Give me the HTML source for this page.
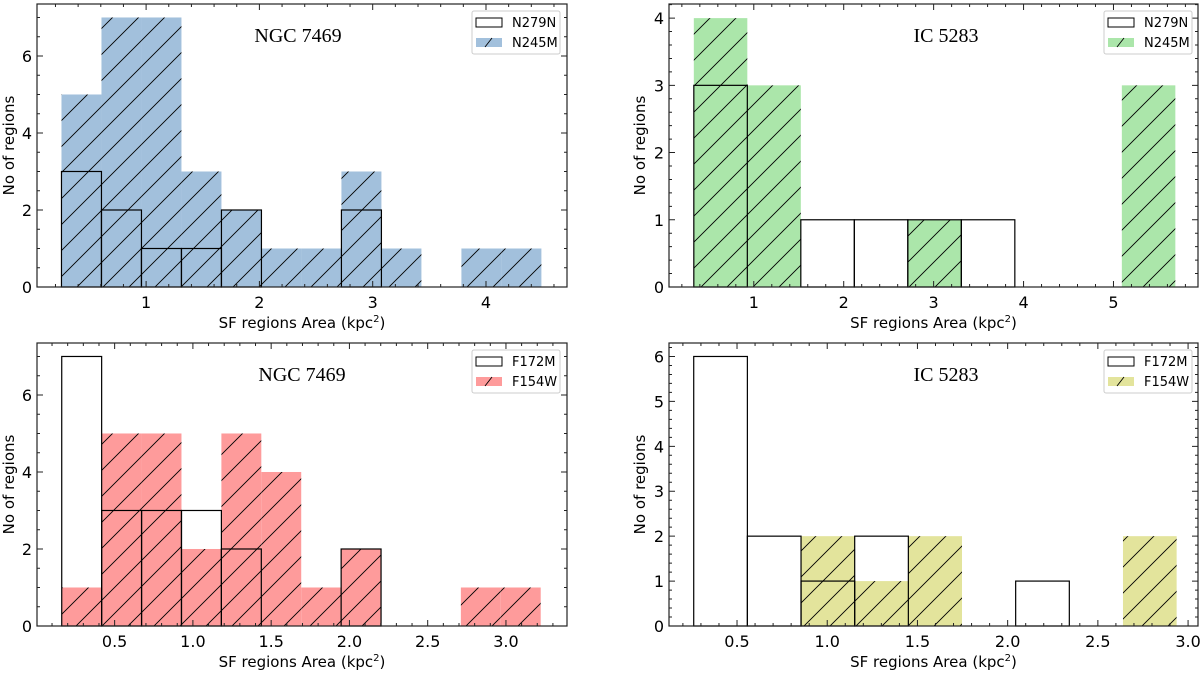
<!DOCTYPE html>
<html><head><meta charset="utf-8"><style>
html,body{margin:0;padding:0;background:#fff;}
svg{display:block;font-family:"DejaVu Sans","Liberation Sans",sans-serif;}
</style></head><body>
<svg id="fig" width="1200" height="675" viewBox="0 0 1200 675" xmlns="http://www.w3.org/2000/svg">
<defs id="defs"></defs>
</svg>
<script>
// Panel A: NGC 7469 N279N / N245M
const aStart = 0.253, aWidth = 0.353;
const aOutline = [3,2,1,1,2,0,0,2,0,0,0,0];
const aFilled = [5,7,7,3,2,1,1,3,1,0,1,1];
const aXTicks = [1,2,3,4];
const aYTicks = [0,2,4,6];
// Panel B: IC 5283 N279N / N245M
const bStart = 0.333, bWidth = 0.595;
const bOutline = [3,0,1,1,1,1,0,0,0];
const bFilled = [4,3,0,0,1,0,0,0,3];
const bXTicks = [1,2,3,4,5];
const bYTicks = [0,1,2,3,4];
// Panel C: NGC 7469 F172M / F154W
const cStart = 0.162, cWidth = 0.255;
const cOutline = [7,3,3,3,2,0,0,2,0,0,0,0];
const cFilled = [1,5,5,2,5,4,1,2,0,0,1,1];
const cXTicks = [0.5,1.0,1.5,2.0,2.5,3.0];
const cYTicks = [0,2,4,6];
// Panel D: IC 5283 F172M / F154W
const dStart = 0.26, dWidth = 0.2974;
const dOutline = [6,2,1,2,0,0,1,0,0];
const dFilled = [0,0,2,1,2,0,0,0,2];
const dXTicks = [0.5,1.0,1.5,2.0,2.5,3.0];
const dYTicks = [0,1,2,3,4,5,6];

const NS='http://www.w3.org/2000/svg';
const svg=document.getElementById('fig');
const defs=document.getElementById('defs');
function mk(tag,attrs,parent){const e=document.createElementNS(NS,tag);for(const k in attrs)e.setAttribute(k,attrs[k]);(parent||svg).appendChild(e);return e;}

function panel(o){
  const g=mk('g',{});
  
  
  const L=o.L,R=o.R,T=o.T,B=o.B;
  const sx=v=>L+(v-o.xmin)*(R-L)/(o.xmax-o.xmin);
  const sy=v=>B-(v-o.ymin)*(B-T)/(o.ymax-o.ymin);
  const pid='h'+o.name;
  const s=26;
  const p=mk('pattern',{id:pid,patternUnits:'userSpaceOnUse',width:s,height:s,x:0,y:0},defs);
  mk('rect',{x:0,y:0,width:s,height:s,fill:o.color},p);
  mk('path',{d:`M-2,${s+2} L${s+2},-2 M-2,2 L2,-2 M${s-2},${s+2} L${s+2},${s-2}`,stroke:'#000','stroke-width':0.9},p);
  o.filled.forEach((v,i)=>{
    if(v<=0)return;
    const x0=sx(o.start+i*o.width),x1=sx(o.start+(i+1)*o.width);
    const r=mk('rect',{x:x0,y:sy(v),width:x1-x0,height:sy(0)-sy(v),fill:'url(#'+pid+')'},g);
    
    
  });
  o.outline.forEach((v,i)=>{
    if(v<=0)return;
    const x0=sx(o.start+i*o.width),x1=sx(o.start+(i+1)*o.width);
    const r=mk('rect',{x:x0,y:sy(v),width:x1-x0,height:sy(0)-sy(v),fill:'none',stroke:'#000','stroke-width':1.2},g);
    
    
  });
  const f=mk('rect',{x:L,y:T,width:R-L,height:B-T,fill:'none',stroke:'#222','stroke-width':1.2},g);
  
  
  let path='';
  for(let v=Math.ceil(o.xmin/o.xminor)*o.xminor;v<=o.xmax+1e-9;v+=o.xminor){const x=sx(v);path+=`M${x},${B}v-3M${x},${T}v3`;}
  for(let v=Math.ceil(o.ymin/o.yminor)*o.yminor;v<=o.ymax+1e-9;v+=o.yminor){const y=sy(v);path+=`M${L},${y}h3M${R},${y}h-3`;}
  o.xticks.forEach(v=>{const x=sx(v);path+=`M${x},${B}v-6M${x},${T}v6`;});
  o.yticks.forEach(v=>{const y=sy(v);path+=`M${L},${y}h6M${R},${y}h-6`;});
  mk('path',{d:path,stroke:'#222','stroke-width':1,fill:'none'},g);
  o.xticks.forEach(v=>{
    const t=mk('text',{x:sx(v),y:B+21,'text-anchor':'middle','font-size':16},g);
    t.textContent=o.xfmt(v);
    
    
  });
  o.yticks.forEach(v=>{
    const t=mk('text',{x:L-5,y:sy(v)+6,'text-anchor':'end','font-size':16},g);
    t.textContent=String(v);
    
    
  });
  const xl=mk('text',{x:(L+R)/2,y:B+41,'text-anchor':'middle','font-size':15},g);
  xl.innerHTML='SF regions Area (kpc<tspan dy="-6" font-size="10">2</tspan><tspan dy="6">)</tspan>';
  
  
  const yl=mk('text',{x:0,y:0,'text-anchor':'middle','font-size':15,transform:`translate(${o.ylx},${(T+B)/2}) rotate(-90)`},g);
  yl.textContent='No of regions';
  
  
  const tt=mk('text',{x:o.tx,y:T+38,'text-anchor':'middle','font-size':20,'font-family':'"Liberation Serif",serif'},g);
  tt.textContent=o.title;
  
  
  const lx=o.lx,ly=T+7;
  const lg=mk('g',{},g);
  
  
  mk('rect',{x:lx,y:ly,width:88,height:43,rx:2,fill:'#fff',stroke:'#ccc','stroke-width':1},lg);
  mk('rect',{x:lx+4,y:ly+7,width:26,height:9,fill:'none',stroke:'#000','stroke-width':1},lg);
  const t1=mk('text',{x:lx+40,y:ly+16,'font-size':13},lg);t1.textContent=o.l1;
  
  
  mk('rect',{x:lx+4,y:ly+27,width:26,height:9,fill:o.color},lg);
  mk('path',{d:`M${lx+13},${ly+36}l7,-9`,stroke:'#000','stroke-width':0.9},lg);
  const t2=mk('text',{x:lx+40,y:ly+36,'font-size':13},lg);t2.textContent=o.l2;
  
  
}
const f1=v=>String(v), f2=v=>v.toFixed(1);
panel({name:'ngc7469-nircam',L:37,R:567,T:4,B:287,xmin:0.037,xmax:4.715,ymin:0,ymax:7.35,xminor:0.2,yminor:0.5,
  xticks:aXTicks,yticks:aYTicks,xfmt:f1,start:aStart,width:aWidth,outline:aOutline,filled:aFilled,color:'#a2c0dc',
  title:'NGC 7469',tx:298,lx:472,l1:'N279N',l2:'N245M',ylx:14});
panel({name:'ic5283-nircam',L:669,R:1198,T:4,B:287,xmin:0.057,xmax:5.94,ymin:0,ymax:4.21,xminor:0.2,yminor:0.2,
  xticks:bXTicks,yticks:bYTicks,xfmt:f1,start:bStart,width:bWidth,outline:bOutline,filled:bFilled,color:'#abe6aa',
  title:'IC 5283',tx:946,lx:1104,l1:'N279N',l2:'N245M',ylx:645});
panel({name:'ngc7469-filters',L:37,R:567,T:343,B:626,xmin:0.004,xmax:3.39,ymin:0,ymax:7.35,xminor:0.1,yminor:0.5,
  xticks:cXTicks,yticks:cYTicks,xfmt:f2,start:cStart,width:cWidth,outline:cOutline,filled:cFilled,color:'#fe9b9b',
  title:'NGC 7469',tx:302,lx:472,l1:'F172M',l2:'F154W',ylx:14});
panel({name:'ic5283-filters',L:669,R:1198,T:343,B:626,xmin:0.123,xmax:3.055,ymin:0,ymax:6.3,xminor:0.1,yminor:0.2,
  xticks:dXTicks,yticks:dYTicks,xfmt:f2,start:dStart,width:dWidth,outline:dOutline,filled:dFilled,color:'#e3e49c',
  title:'IC 5283',tx:946,lx:1104,l1:'F172M',l2:'F154W',ylx:645});
</script>
</body></html>
